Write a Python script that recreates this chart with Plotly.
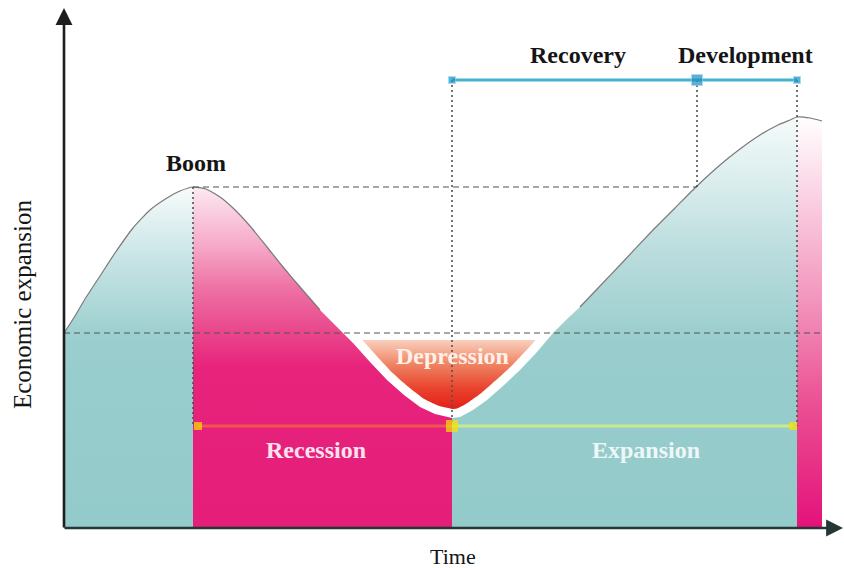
import numpy as np
import plotly.graph_objects as go

# ---------------- data ----------------
# business-cycle curve: time position and economic level (0 = time axis)
curve_t = [64, 75, 85, 100, 115, 133, 150, 167, 180, 193, 206, 220, 233, 250, 267, 283, 300,
           320, 337, 353, 370, 387, 404, 420, 435, 452, 460, 473, 487, 503, 520, 537, 553,
           567, 580, 600, 620, 653, 675, 697, 720, 740, 760, 778, 790, 797, 810, 822]
curve_level = [195, 212, 229, 252, 275, 300, 318, 330, 337, 341, 339, 331, 320, 302, 281, 261, 241,
               218, 201, 185, 166, 148, 133, 121, 114, 110, 111, 118, 128, 142, 158, 176, 195,
               209, 221, 242, 263, 298, 320, 342, 363, 379, 393, 403, 408, 411, 410, 407]

# phase boundaries on the time axis
t_start = 64
t_boom = 193
t_trough = 452
t_recovery = 697
t_peak = 797
t_end = 822
t_phase_left = 198
t_phase_right = 793

# reference levels
level_mid = 195        # long dashed line
level_boom = 341       # boom level
level_depression = 188 # top of depression zone
level_top_bar = 448    # recovery / development bar
level_phase_bar = 102  # recession / expansion bar

top_labels = ["Recovery", "Development"]
phase_labels = ["Recession", "Expansion"]
peak_label = "Boom"
depression_label = "Depression"
x_title = "Time"
y_title = "Economic expansion"

FONT = "Liberation Serif"

t = np.array(curve_t, dtype=float)
lv = np.array(curve_level, dtype=float)

fig = go.Figure()


def region(t0, t1, colorscale, stop):
    m = (t >= t0) & (t <= t1)
    xs = list(t[m]) + [t1, t0]
    ys = list(lv[m]) + [0, 0]
    fig.add_trace(go.Scatter(
        x=xs, y=ys, mode="lines", fill="toself", line=dict(width=0),
        fillgradient=dict(type="vertical", colorscale=colorscale, start=0, stop=stop),
        hoverinfo="skip"))


teal_left = [[0, "#93CACA"], [0.55, "#9ACECE"], [0.78, "#C6E3E4"], [1, "#F7FBFB"]]
pink_mid = [[0, "#E51E79"], [0.47, "#E7237C"], [0.57, "#E9458B"], [0.7, "#EE70A3"],
            [0.82, "#F5A6C6"], [1, "#FDE9F1"]]
teal_right = [[0, "#93CACA"], [0.45, "#99CDCD"], [0.68, "#BCDDDE"], [0.85, "#DCEEEE"], [1, "#F5FAFA"]]
pink_strip = [[0, "#E4127A"], [0.3, "#EB4F92"], [0.55, "#F294BC"], [0.8, "#FAD0E2"], [1, "#FFFFFF"]]

region(t_start, t_boom, teal_left, float(lv[t == t_boom][0]))
region(t_boom, t_trough, pink_mid, float(lv[t == t_boom][0]))
region(t_trough, t_peak, teal_right, float(lv[t == t_peak][0]))
region(t_peak, t_end, pink_strip, float(lv[t == t_peak][0]))

# depression zone: inset from the curve by a white gap, up to the depression level
GAP = 9.0
sel = (t >= 300) & (t <= 600)
ct, cl = t[sel], lv[sel]
tx = np.gradient(ct)
ty = np.gradient(cl)
norm = np.hypot(tx, ty)
nx, ny = -ty / norm, tx / norm
flip = ny < 0
nx[flip], ny[flip] = -nx[flip], -ny[flip]
it, il = ct + GAP * nx, cl + GAP * ny
i_tr = int(np.argmin(il))
t_left = float(np.interp(level_depression, il[:i_tr + 1][::-1], it[:i_tr + 1][::-1]))
t_right = float(np.interp(level_depression, il[i_tr:], it[i_tr:]))
m = (il < level_depression) & (it > t_left) & (it < t_right)
dep_x = [t_left] + list(it[m]) + [t_right]
dep_y = [level_depression] + list(il[m]) + [level_depression]
fig.add_trace(go.Scatter(
    x=dep_x, y=dep_y, mode="lines", fill="toself",
    line=dict(width=0, shape="spline", smoothing=0.5),
    fillgradient=dict(type="vertical",
                      colorscale=[[0, "#E3201A"], [0.3, "#E9432D"], [0.65, "#EF8464"], [1, "#FAD0BE"]],
                      start=float(il.min()), stop=level_depression),
    hoverinfo="skip"))

# curve outline (not drawn on the white-edged trough)
for part in [(t <= 335), (t >= 570)]:
    fig.add_trace(go.Scatter(x=t[part], y=lv[part], mode="lines",
                             line=dict(color="#7a7a7a", width=1.2, shape="spline", smoothing=0.5),
                             hoverinfo="skip"))

DASH = "6px,4px"
DOT = "2px,3px"
GUIDE = "#4d5555"


def seg(x0, y0, x1, y1, dash, width=1.3, color=GUIDE):
    fig.add_trace(go.Scatter(x=[x0, x1], y=[y0, y1], mode="lines",
                             line=dict(color=color, width=width, dash=dash), hoverinfo="skip"))


seg(t_start, level_mid, t_end, level_mid, DASH, 1.2)
seg(t_boom, level_boom, t_recovery, level_boom, DASH, 1.2)
seg(t_boom, level_boom, t_boom, level_phase_bar, DOT, 1.6)
seg(t_trough, level_top_bar, t_trough, level_phase_bar, DOT, 1.6)
seg(t_recovery, level_top_bar, t_recovery, level_boom, DOT, 1.6)
seg(t_peak, level_top_bar, t_peak, level_phase_bar, DOT, 1.6)

# recovery / development bar
fig.add_trace(go.Scatter(x=[t_trough, t_peak], y=[level_top_bar, level_top_bar], mode="lines",
                         line=dict(color="#45B2D2", width=3), hoverinfo="skip"))
fig.add_trace(go.Scatter(x=[t_trough, t_recovery, t_peak], y=[level_top_bar] * 3, mode="markers",
                         marker=dict(symbol="square", size=[7, 11, 7], color="#1E8EC0",
                                     line=dict(color="#7FD0EA", width=1)),
                         hoverinfo="skip"))

# recession / expansion bar
fig.add_trace(go.Scatter(x=[t_phase_left, t_trough], y=[level_phase_bar] * 2, mode="lines",
                         line=dict(color="#F0564F", width=3), hoverinfo="skip"))
fig.add_trace(go.Scatter(x=[t_trough, t_phase_right], y=[level_phase_bar] * 2, mode="lines",
                         line=dict(color="#C9E98C", width=3), hoverinfo="skip"))
fig.add_trace(go.Scatter(x=[t_phase_left, t_trough, t_phase_right], y=[level_phase_bar] * 3,
                         mode="markers",
                         marker=dict(symbol="square", size=[8, 12, 8], color="#F6E400",
                                     line=dict(width=0)),
                         hoverinfo="skip"))

# axes arrows
fig.add_annotation(x=t_start, y=520, ax=t_start, ay=-1, xref="x", yref="y", axref="x", ayref="y",
                   showarrow=True, arrowhead=2, arrowsize=1.3, arrowwidth=2.6, arrowcolor="#1e1e1e",
                   text="")
fig.add_annotation(x=843, y=0, ax=t_start - 1, ay=0, xref="x", yref="y", axref="x", ayref="y",
                   showarrow=True, arrowhead=2, arrowsize=1.3, arrowwidth=2.6, arrowcolor="#263636",
                   text="")


def label(x, y, text, size, color, bold=True, angle=0):
    fig.add_annotation(x=x, y=y, xref="x", yref="y", showarrow=False,
                       text=f"<b>{text}</b>" if bold else text, textangle=angle,
                       font=dict(family=FONT, size=size, color=color))


label(t_boom + 3, 365, peak_label, 24, "#151515")
label(578, 473, top_labels[0], 24, "#151515")
label(745, 473, top_labels[1], 24, "#151515")
label(316, 78, phase_labels[0], 24, "#FBE2EE")
label(646, 78, phase_labels[1], 24, "#EEF7F7")
label(t_trough, 172, depression_label, 24, "#FFF1E8")
label(453, -28, x_title, 22, "#151515", bold=False)
label(22, 223, y_title, 25, "#151515", bold=False, angle=-90)

fig.update_layout(
    width=844, height=568, margin=dict(l=0, r=0, t=0, b=0),
    paper_bgcolor="white", plot_bgcolor="white", showlegend=False,
    xaxis=dict(range=[0, 844], visible=False, fixedrange=True),
    yaxis=dict(range=[-40, 528], visible=False, fixedrange=True),
)

fig.write_html("out.html", config={"displayModeBar": False},
               post_script="document.body.style.margin='0';document.body.style.overflow='hidden';")
